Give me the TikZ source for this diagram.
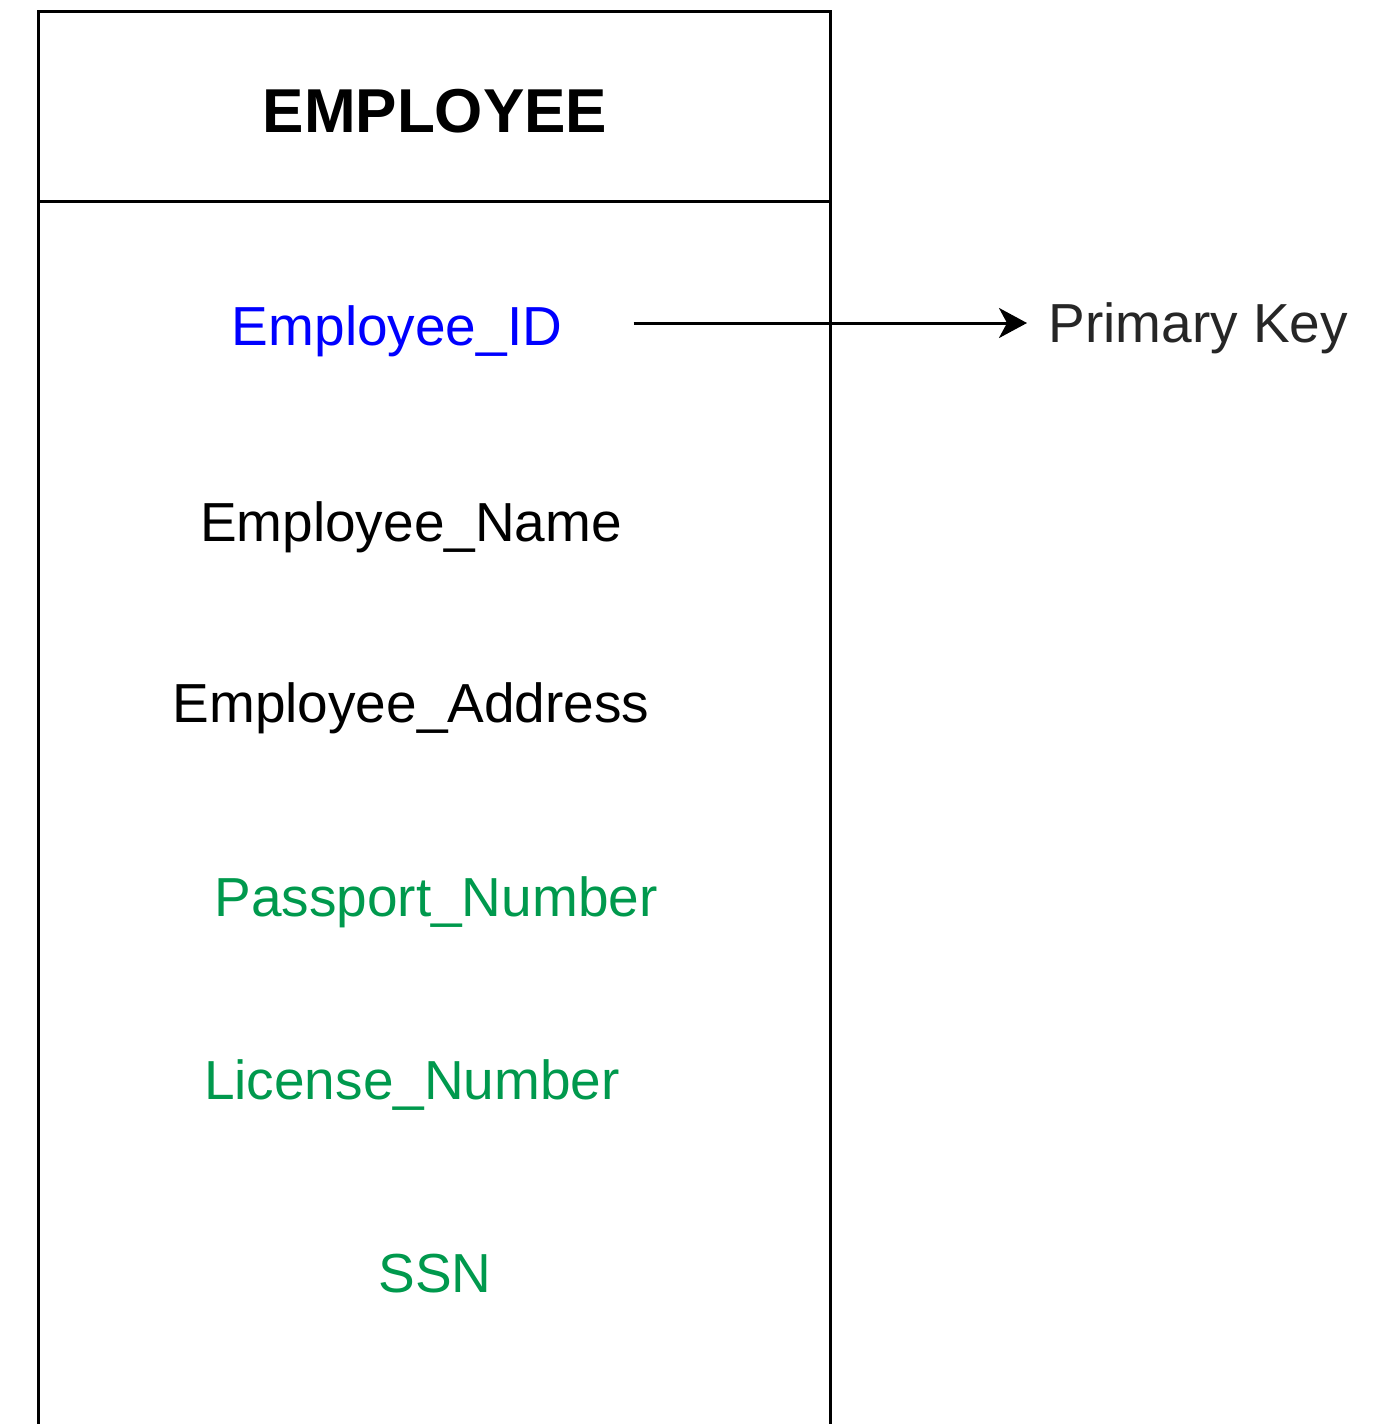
\documentclass[tikz,border=0pt]{standalone}
\usepackage{fontspec}
\setmainfont{Liberation Sans}
\usetikzlibrary{arrows.meta,positioning}
\usepackage{xcolor}
\definecolor{keyblue}{HTML}{0000FF}
\definecolor{candgreen}{HTML}{00994D}

\begin{document}
\begin{tikzpicture}[x=0.5pt, y=-0.5pt, line width=1.5pt, >={Stealth[length=14pt,width=15pt,inset=4pt]},
  attr/.style={anchor=base, inner sep=0pt, font=\fontsize{27.5}{30}\selectfont}]
\useasboundingbox (0,0) rectangle (1380,1424);
% entity box, runs past the bottom edge
\draw (38,1460) -- (38,11) -- (830,11) -- (830,1460);
\draw (38,201) -- (830,201);
\node[anchor=base, inner sep=0pt, font=\fontsize{31}{34}\selectfont\bfseries] (title) at (435,132) {EMPLOYEE};
\foreach \x/\y/\lbl/\col/\nm in {
    397/345/{Employee\_ID}/keyblue/id,
    411/541/{Employee\_Name}/black/name,
    411/722/{Employee\_Address}/black/addr,
    436/916/{Passport\_Number}/candgreen/pass,
    412/1099/{License\_Number}/candgreen/lic,
    435/1292/{SSN}/candgreen/ssn}{
  \node[attr, text=\col] (\nm) at (\x,\y) {\lbl};
}
\node[attr, anchor=base west, text=black!85] (pk) at (1047,342) {Primary Key};
\draw[->] ([xshift=35pt]id.east |- 0,323) -- ([xshift=-10pt]pk.west |- 0,323);
\end{tikzpicture}
\end{document}
